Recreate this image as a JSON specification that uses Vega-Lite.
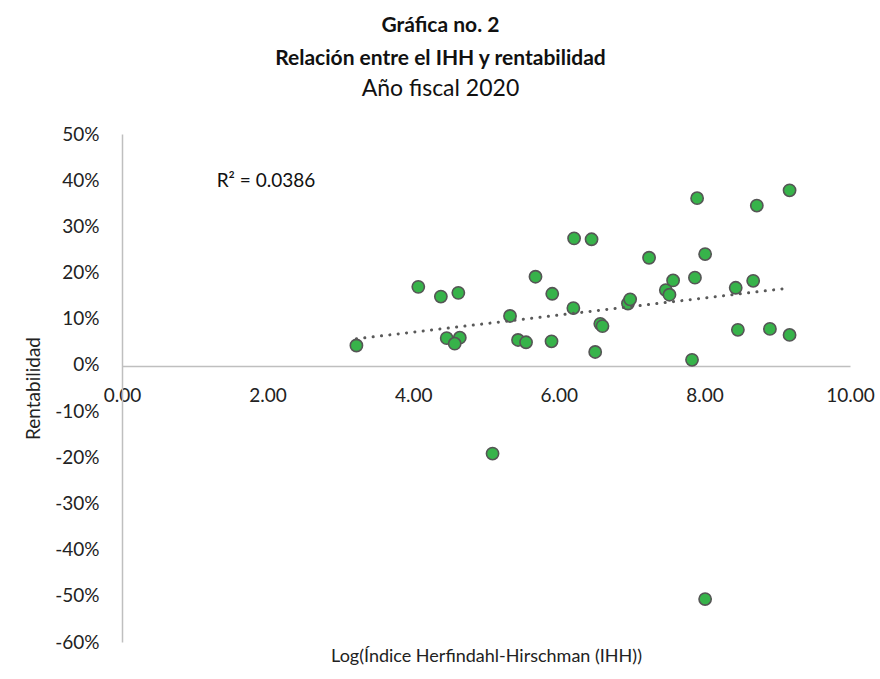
{
  "$schema": "https://vega.github.io/schema/vega-lite/v6.json",
  "autosize": {"type": "none"},
  "width": 728,
  "height": 508,
  "padding": {"left": 122, "top": 134, "right": 30, "bottom": 37},
  "background": "white",
  "config": {
    "view": {"stroke": null},
    "font": "Lato",
    "axis": {"labelFont": "Lato", "titleFont": "Lato", "labelColor": "#222222", "titleColor": "#222222", "labelFontSize": 19, "titleFontSize": 18, "titleFontWeight": "normal", "grid": false, "ticks": false, "domainColor": "#bfbfbf", "domainWidth": 1.5, "labelFlush": false, "labelOverlap": false}
  },
  "title": {
    "text": ["Gráfica no. 2", "Relación entre el IHH y rentabilidad"],
    "subtitle": "Año fiscal 2020",
    "fontSize": 21,
    "fontWeight": "bold",
    "font": "Lato",
    "color": "#111111",
    "subtitleFont": "Lato",
    "subtitleFontSize": 23,
    "subtitleColor": "#111111",
    "subtitleFontWeight": "normal",
    "lineHeight": 33,
    "subtitleLineHeight": 33,
    "subtitlePadding": 9,
    "anchor": "middle",
    "frame": "bounds",
    "dx": -9,
    "offset": 24
  },
  "data": {
    "values": [
      {"ihh": 3.22, "rent": 0.042},
      {"ihh": 4.07, "rent": 0.169},
      {"ihh": 4.38, "rent": 0.148},
      {"ihh": 4.62, "rent": 0.156},
      {"ihh": 4.46, "rent": 0.058},
      {"ihh": 4.64, "rent": 0.059},
      {"ihh": 4.57, "rent": 0.046},
      {"ihh": 5.09, "rent": -0.192},
      {"ihh": 5.33, "rent": 0.106},
      {"ihh": 5.44, "rent": 0.054},
      {"ihh": 5.55, "rent": 0.049},
      {"ihh": 5.68, "rent": 0.191},
      {"ihh": 5.91, "rent": 0.154},
      {"ihh": 5.90, "rent": 0.051},
      {"ihh": 6.21, "rent": 0.274},
      {"ihh": 6.45, "rent": 0.272},
      {"ihh": 6.20, "rent": 0.123},
      {"ihh": 6.50, "rent": 0.028},
      {"ihh": 6.57, "rent": 0.089},
      {"ihh": 6.60, "rent": 0.084},
      {"ihh": 6.95, "rent": 0.133},
      {"ihh": 6.98, "rent": 0.142},
      {"ihh": 7.24, "rent": 0.232},
      {"ihh": 7.47, "rent": 0.162},
      {"ihh": 7.52, "rent": 0.152},
      {"ihh": 7.57, "rent": 0.183},
      {"ihh": 7.83, "rent": 0.011},
      {"ihh": 7.87, "rent": 0.189},
      {"ihh": 7.90, "rent": 0.361},
      {"ihh": 8.01, "rent": 0.240},
      {"ihh": 8.01, "rent": -0.507},
      {"ihh": 8.43, "rent": 0.167},
      {"ihh": 8.46, "rent": 0.076},
      {"ihh": 8.67, "rent": 0.182},
      {"ihh": 8.72, "rent": 0.345},
      {"ihh": 8.90, "rent": 0.078},
      {"ihh": 9.17, "rent": 0.065},
      {"ihh": 9.17, "rent": 0.378}
    ]
  },
  "resolve": {"axis": {"x": "independent"}},
  "layer": [
    {
      "mark": {"type": "point", "filled": true, "shape": "circle", "size": 150, "fill": "#37b34a", "stroke": "#555555", "strokeWidth": 1.6, "opacity": 1},
      "encoding": {
        "x": {"field": "ihh", "type": "quantitative", "scale": {"domain": [0, 10], "nice": false, "zero": false},
          "axis": {"values": [0, 2, 4, 6, 8, 10], "format": ".2f", "offset": -276, "labelPadding": 20, "title": null}},
        "y": {"field": "rent", "type": "quantitative", "scale": {"domain": [-0.6, 0.5], "nice": false},
          "axis": {"values": [-0.6, -0.5, -0.4, -0.3, -0.2, -0.1, 0, 0.1, 0.2, 0.3, 0.4, 0.5], "labelExpr": "replace(format(datum.value, '.0%'), '\u2212', '-')", "labelPadding": 23, "title": "Rentabilidad", "titleFontSize": 19, "titlePadding": 11}}
      }
    },
    {
      "transform": [{"regression": "rent", "on": "ihh"}],
      "mark": {"type": "line", "stroke": "#595959", "strokeWidth": 3, "strokeDash": [0.1, 8.3], "strokeCap": "round"},
      "encoding": {
        "x": {"field": "ihh", "type": "quantitative",
          "axis": {"orient": "bottom", "domain": false, "labels": false, "ticks": false, "title": "Log(Índice Herfindahl-Hirschman (IHH))", "titlePadding": 5}},
        "y": {"field": "rent", "type": "quantitative"}
      }
    },
    {
      "data": {"values": [{"label": "R² = 0.0386", "lx": 1.3, "ly": 0.398}]},
      "mark": {"type": "text", "align": "left", "baseline": "middle", "fontSize": 19, "font": "Lato", "color": "#111111"},
      "encoding": {
        "x": {"field": "lx", "type": "quantitative", "axis": null},
        "y": {"field": "ly", "type": "quantitative"},
        "text": {"field": "label"}
      }
    }
  ]
}
